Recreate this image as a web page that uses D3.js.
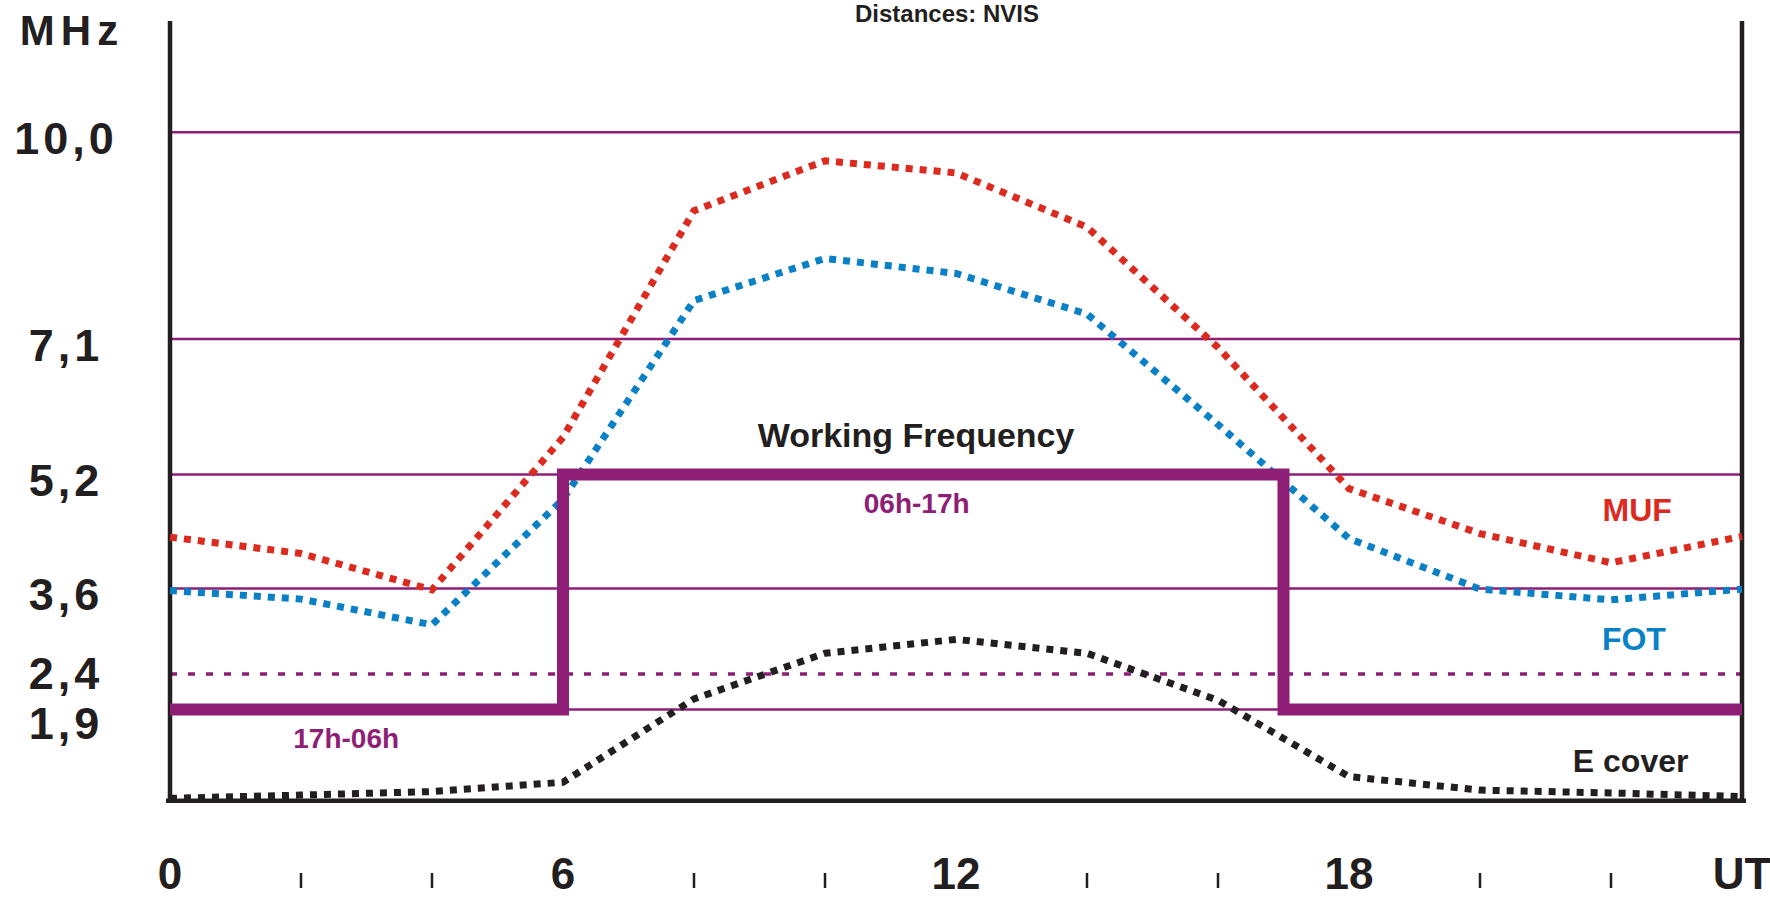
<!DOCTYPE html>
<html>
<head>
<meta charset="utf-8">
<script src="https://cdn.jsdelivr.net/npm/d3@7"></script>
<style>
  body { margin: 0; background: #fff; }
  text { font-family: "Liberation Sans", Arial, sans-serif; font-weight: bold; }
</style>
</head>
<body>
<svg id="chart"></svg>
<script>
// hours of the day (UT), one point every 2h
const hours = [0, 2, 4, 6, 8, 10, 12, 14, 16, 18, 20, 22, 24];
const muf = [4.32, 4.09, 3.58, 5.72, 8.9, 9.6, 9.43, 8.67, 6.98, 5.0, 4.37, 3.96, 4.33];
const fot = [3.57, 3.45, 3.09, 4.85, 7.64, 8.23, 8.02, 7.45, 5.9, 4.3, 3.59, 3.44, 3.59];
const eCover = [0.655, 0.70, 0.75, 0.88, 2.05, 2.69, 2.885, 2.69, 2.03, 0.96, 0.77, 0.73, 0.68];

// working frequency schedule (step after)
const wfHours = [0, 6, 17, 24];
const wfFreq = [1.9, 5.2, 1.9, 1.9];

// frequency levels on the y axis
const levels = [10.0, 7.1, 5.2, 3.6, 2.4, 1.9];
const levelLabels = ["10,0", "7,1", "5,2", "3,6", "2,4", "1,9"];
const dashedLevels = [2.4];

// x axis
const labelHours = [0, 6, 12, 18, 24];
const labelTexts = ["0", "6", "12", "18", "UT"];
const minorHours = [2, 4, 8, 10, 14, 16, 20, 22];

const purple = "#8e1e76";
const red = "#dc2a1f";
const blue = "#0a80c6";
const dark = "#231f20";

const width = 1770, height = 899;

const svg = d3.select("#chart")
  .attr("width", width)
  .attr("height", height);

const x = d3.scaleLinear().domain([0, 24]).range([170, 1742]);
const y = d3.scaleLinear().domain([0, 10]).range([845, 132.3]);
const yBottom = 800.7;

// grid lines (levels)
svg.append("g").selectAll("line")
  .data(levels)
  .join("line")
  .attr("x1", x(0))
  .attr("x2", x(24))
  .attr("y1", d => y(d))
  .attr("y2", d => y(d))
  .attr("stroke", purple)
  .attr("stroke-width", d => dashedLevels.includes(d) ? 3.5 : 2.5)
  .attr("stroke-dasharray", d => dashedLevels.includes(d) ? "7,11" : null);

// frame: left, right, bottom
svg.append("line")
  .attr("x1", x(0)).attr("x2", x(0))
  .attr("y1", 21).attr("y2", yBottom)
  .attr("stroke", dark).attr("stroke-width", 4.5);
svg.append("line")
  .attr("x1", x(24)).attr("x2", x(24))
  .attr("y1", 21).attr("y2", yBottom)
  .attr("stroke", dark).attr("stroke-width", 4.5);

// dotted curves
const line = d3.line()
  .x((d, i) => x(hours[i]))
  .y(d => y(d));

const series = [
  { values: eCover, color: dark },
  { values: fot, color: blue },
  { values: muf, color: red }
];

svg.append("g").selectAll("path")
  .data(series)
  .join("path")
  .attr("d", d => line(d.values))
  .attr("fill", "none")
  .attr("stroke", d => d.color)
  .attr("stroke-width", 7)
  .attr("stroke-dasharray", "7,7");

// working frequency
const wfLine = d3.line()
  .x((d, i) => x(wfHours[i]))
  .y(d => y(d))
  .curve(d3.curveStepAfter);

svg.append("path")
  .attr("d", wfLine(wfFreq))
  .attr("fill", "none")
  .attr("stroke", purple)
  .attr("stroke-width", 12)
  .attr("stroke-linejoin", "miter");

svg.append("line")
  .attr("x1", x(0) - 4).attr("x2", x(24) + 4)
  .attr("y1", yBottom).attr("y2", yBottom)
  .attr("stroke", dark).attr("stroke-width", 4.5);

// y labels, pushed apart when too close
const yl = levels.map(v => y(v) + 22);
for (let k = 0; k < 5; k++) {
  for (let i = 1; i < yl.length; i++) {
    const gap = yl[i] - yl[i - 1];
    if (gap < 50) {
      const push = (50 - gap) / 2;
      yl[i - 1] -= push;
      yl[i] += push;
    }
  }
}
svg.append("g").selectAll("text")
  .data(levelLabels)
  .join("text")
  .attr("x", 66)
  .attr("y", (d, i) => yl[i])
  .attr("text-anchor", "middle")
  .attr("font-size", 45)
  .attr("letter-spacing", 4)
  .attr("fill", dark)
  .text(d => d);

svg.append("text")
  .attr("x", 72).attr("y", 45)
  .attr("text-anchor", "middle")
  .attr("font-size", 42)
  .attr("letter-spacing", 6)
  .attr("fill", dark)
  .text("MHz");

// x labels and small ticks
svg.append("g").selectAll("text")
  .data(labelTexts)
  .join("text")
  .attr("x", (d, i) => x(labelHours[i]))
  .attr("y", 889)
  .attr("text-anchor", "middle")
  .attr("font-size", 44)
  .attr("fill", dark)
  .text(d => d);

svg.append("g").selectAll("line")
  .data(minorHours)
  .join("line")
  .attr("x1", d => x(d)).attr("x2", d => x(d))
  .attr("y1", 873).attr("y2", 888)
  .attr("stroke", dark)
  .attr("stroke-width", 2.5);

// title
svg.append("text")
  .attr("x", 947).attr("y", 22)
  .attr("text-anchor", "middle")
  .attr("font-size", 24)
  .attr("fill", dark)
  .text("Distances: NVIS");

// annotations
function note(txt, h, f, size, color) {
  svg.append("text")
    .attr("x", x(h)).attr("y", y(f))
    .attr("text-anchor", "middle")
    .attr("font-size", size)
    .attr("fill", color)
    .text(txt);
}
note("Working Frequency", 11.39, 5.58, 34, dark);
note("06h-17h", 11.4, 4.66, 28, purple);
note("17h-06h", 2.69, 1.36, 28, purple);
note("MUF", 22.4, 4.54, 32, red);
note("FOT", 22.35, 2.73, 32, blue);
note("E cover", 22.3, 1.02, 32, dark);
</script>
</body>
</html>
